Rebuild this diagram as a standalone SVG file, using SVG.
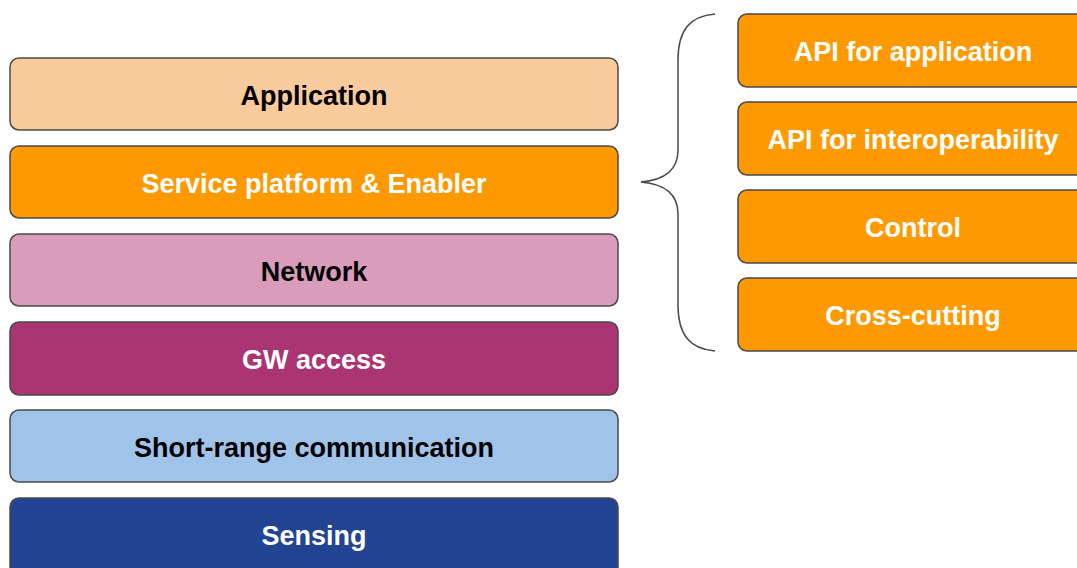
<svg xmlns="http://www.w3.org/2000/svg" width="1077" height="568" viewBox="0 0 1077 568">
  <style>
    .box { stroke: #4a4a4a; stroke-width: 1.5; }
    .lbl { font-family: "Liberation Sans", Arial, sans-serif; font-weight: bold; font-size: 27px; text-anchor: middle; dominant-baseline: central; }
    .dark { fill: #000000; }
    .light { fill: #ffffff; }
    .brace { fill: none; stroke: #4a4a4a; stroke-width: 1.5; }
  </style>
  <rect width="1077" height="568" fill="#ffffff"/>

  <!-- layer stack -->
  <g id="application">
    <rect class="box" x="10" y="58" width="608" height="72" rx="9" fill="#f9cb9c"/>
    <text class="lbl dark" x="314" y="96">Application</text>
  </g>
  <g id="service-platform">
    <rect class="box" x="10" y="146" width="608" height="72" rx="9" fill="#ff9900"/>
    <text class="lbl light" x="314" y="184">Service platform &amp; Enabler</text>
  </g>
  <g id="network">
    <rect class="box" x="10" y="234" width="608" height="72" rx="9" fill="#d99cbd"/>
    <text class="lbl dark" x="314" y="272">Network</text>
  </g>
  <g id="gw-access">
    <rect class="box" x="10" y="322" width="608" height="73" rx="9" fill="#ab3472"/>
    <text class="lbl light" x="314" y="360">GW access</text>
  </g>
  <g id="short-range">
    <rect class="box" x="10" y="410" width="608" height="72" rx="9" fill="#9fc3e9"/>
    <text class="lbl dark" x="314" y="448">Short-range communication</text>
  </g>
  <g id="sensing">
    <rect class="box" x="10" y="498" width="608" height="80" rx="9" fill="#224493"/>
    <text class="lbl light" x="314" y="536">Sensing</text>
  </g>

  <!-- brace linking the service layer to its parts -->
  <g id="connectors">
    <path class="brace" d="M715,14 C690,16 678,30 678,60 L678,150 C678,170 665,180 641,182 C665,184 678,194 678,214 L678,305 C678,335 690,349 715,351"/>
  </g>

  <!-- service platform parts -->
  <g id="api-application">
    <rect class="box" x="738" y="14" width="352" height="73" rx="9" fill="#ff9900"/>
    <text class="lbl light" x="913" y="52">API for application</text>
  </g>
  <g id="api-interoperability">
    <rect class="box" x="738" y="102" width="352" height="73" rx="9" fill="#ff9900"/>
    <text class="lbl light" x="913" y="140">API for interoperability</text>
  </g>
  <g id="control">
    <rect class="box" x="738" y="190" width="352" height="73" rx="9" fill="#ff9900"/>
    <text class="lbl light" x="913" y="228">Control</text>
  </g>
  <g id="cross-cutting">
    <rect class="box" x="738" y="278" width="352" height="73" rx="9" fill="#ff9900"/>
    <text class="lbl light" x="913" y="316">Cross-cutting</text>
  </g>
</svg>
